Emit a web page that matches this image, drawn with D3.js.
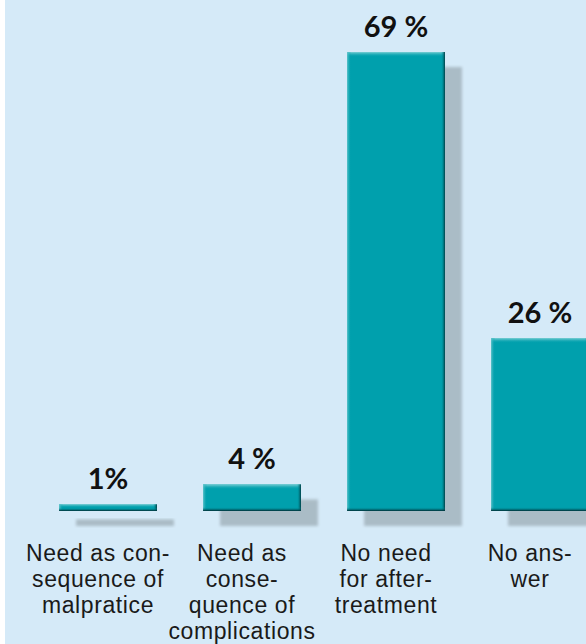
<!DOCTYPE html>
<html>
<head>
<meta charset="utf-8">
<script src="https://cdn.jsdelivr.net/npm/d3@7"></script>
<style>
  html, body { margin: 0; padding: 0; background: #ffffff; }
  svg { display: block; }
</style>
</head>
<body>
<svg id="chart" width="586" height="644"></svg>
<script>
// ---- data ----
const categories = [
  ["Need as con-", "sequence of", "malpratice"],
  ["Need as", "conse-", "quence of", "complications"],
  ["No need", "for after-", "treatment"],
  ["No ans-", "wer"]
];
const values = [1, 4, 69, 26];
const valueLabels = ["1%", "4 %", "69 %", "26 %"];

// ---- layout ----
const W = 586, H = 644;
const svg = d3.select("#chart");
const defs = svg.append("defs");

// background
svg.append("rect").attr("x", 0).attr("y", 0).attr("width", W).attr("height", H).attr("fill", "#ffffff");
svg.append("rect").attr("x", 5).attr("y", 0).attr("width", W - 5).attr("height", H).attr("fill", "#d5eaf8");

const ids = d3.range(values.length);
const x = d3.scaleBand().domain(ids).range([36, 612]).paddingInner(0.32).paddingOuter(0.16);
const y = d3.scaleLinear().domain([0, 69]).range([511, 52]);

// shadow blur
const blur = defs.append("filter").attr("id", "blur").attr("x", "-20%").attr("y", "-20%").attr("width", "140%").attr("height", "140%");
blur.append("feGaussianBlur").attr("stdDeviation", 1.5);

// gradients for bevel
function lin(id, x1, y1, x2, y2, stops) {
  const g = defs.append("linearGradient").attr("id", id)
    .attr("x1", x1).attr("y1", y1).attr("x2", x2).attr("y2", y2);
  stops.forEach(s => g.append("stop").attr("offset", s[0]).attr("stop-color", s[1]).attr("stop-opacity", s[2]));
}
lin("gTop", 0, 0, 0, 1, [[0, "#7fd0d6", 1], [1, "#00a0ad", 0]]);
lin("gLeft", 0, 0, 1, 0, [[0, "#6cc8cf", 0.9], [1, "#00a0ad", 0]]);
lin("gRight", 0, 0, 1, 0, [[0, "#00a0ad", 0], [1, "#003a40", 1]]);
lin("gBottom", 0, 0, 0, 1, [[0, "#00a0ad", 0], [1, "#002a30", 1]]);

const bw = x.bandwidth();
const sdx = 17, sdy = 15;

// shadows
svg.append("g").selectAll("rect").data(ids).join("rect")
  .attr("x", i => x(i) + sdx)
  .attr("y", i => y(values[i]) + sdy)
  .attr("width", bw)
  .attr("height", i => y(0) - y(values[i]))
  .attr("fill", "#aabcc6")
  .attr("filter", "url(#blur)");

// bars
const bars = svg.append("g").selectAll("g").data(ids).join("g")
  .attr("transform", i => `translate(${x(i)},${y(values[i])})`);
bars.append("rect").attr("width", bw).attr("height", i => y(0) - y(values[i])).attr("fill", "#00a0ad");
bars.append("rect").attr("width", bw).attr("height", i => Math.min(5, (y(0) - y(values[i])) / 2)).attr("fill", "url(#gTop)");
bars.append("rect").attr("width", 4).attr("height", i => y(0) - y(values[i])).attr("fill", "url(#gLeft)");
bars.append("rect").attr("x", bw - 4).attr("width", 4).attr("height", i => y(0) - y(values[i])).attr("fill", "url(#gRight)");
bars.append("rect")
  .attr("y", i => { const h = y(0) - y(values[i]); return h - Math.min(4, h / 2); })
  .attr("width", bw)
  .attr("height", i => Math.min(4, (y(0) - y(values[i])) / 2))
  .attr("fill", "url(#gBottom)");

// value labels
svg.append("g").selectAll("text").data(ids).join("text")
  .attr("x", i => x(i) + bw / 2)
  .attr("y", i => y(values[i]) - 15)
  .attr("text-anchor", "middle")
  .attr("font-family", "Lato, 'Noto Sans', sans-serif")
  .attr("font-weight", "bold")
  .attr("font-size", 29)
  .attr("fill", "#111111")
  .text(i => valueLabels[i]);

// category labels: one text per line
const lx = i => x(i) + bw / 2 - 10;
const lines = ids.flatMap(i => categories[i].map((t, k) => ({ t, i, k })));
svg.append("g").selectAll("text").data(lines).join("text")
  .attr("x", d => lx(d.i))
  .attr("y", d => 561 + d.k * 26)
  .attr("text-anchor", "middle")
  .attr("font-family", "'Liberation Sans', Arial, sans-serif")
  .attr("font-size", 23)
  .attr("letter-spacing", 0.6)
  .attr("fill", "#1a1a1a")
  .text(d => d.t);
</script>
</body>
</html>
